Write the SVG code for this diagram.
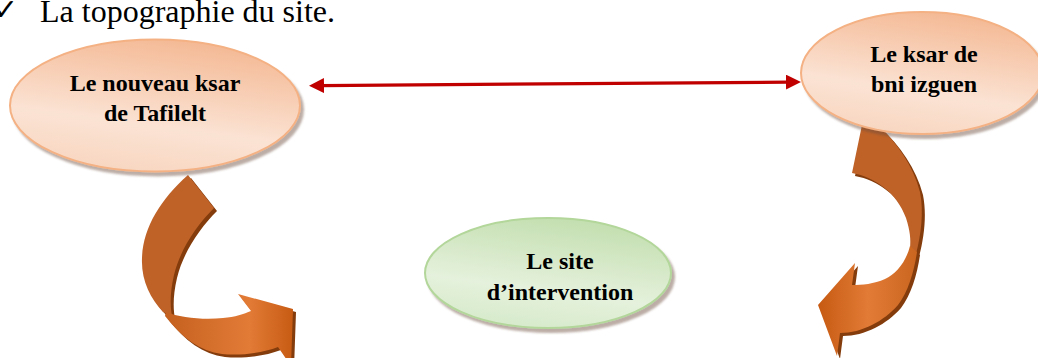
<svg xmlns="http://www.w3.org/2000/svg" xmlns:xlink="http://www.w3.org/1999/xlink" width="1038" height="358" viewBox="0 0 1038 358">
  <style>
    .title { font-family: "Liberation Serif", "Times New Roman", serif; font-size: 32px; fill: #000; }
    .check { font-family: "DejaVu Sans", sans-serif; font-size: 30px; fill: #000; }
    .label { font-family: "Liberation Serif", "Times New Roman", serif; font-size: 24px; font-weight: bold; fill: #000; text-anchor: middle; }
    .peach { fill: url(#peachFill); stroke: #F4B183; stroke-width: 2; filter: url(#shade); }
    .green { fill: url(#greenFill); stroke: #B3D69B; stroke-width: 2; filter: url(#shade); }
    .extrude { fill: #843C0C; }
    .band-back { fill: #BE6228; }
    .link { fill: none; stroke: #C00000; stroke-width: 3.3; }
  </style>
  <defs>
    <linearGradient id="peachFill" x1="0.65" y1="0" x2="0.35" y2="1">
      <stop offset="0" stop-color="#F4B893"/>
      <stop offset="0.65" stop-color="#FBE3D4"/>
      <stop offset="1" stop-color="#F8D6C0"/>
    </linearGradient>
    <linearGradient id="greenFill" x1="0.65" y1="0" x2="0.35" y2="1">
      <stop offset="0" stop-color="#C2DEAE"/>
      <stop offset="0.65" stop-color="#E5F1DC"/>
      <stop offset="1" stop-color="#D6EACA"/>
    </linearGradient>
    <linearGradient id="leftFront" gradientUnits="userSpaceOnUse" x1="165" y1="0" x2="295" y2="0">
      <stop offset="0" stop-color="#C4601F"/>
      <stop offset="0.65" stop-color="#E27B36"/>
      <stop offset="1" stop-color="#C65A12"/>
    </linearGradient>
    <linearGradient id="rightFront" gradientUnits="userSpaceOnUse" x1="818" y1="0" x2="918" y2="0">
      <stop offset="0" stop-color="#C65A12"/>
      <stop offset="0.5" stop-color="#E27B36"/>
      <stop offset="1" stop-color="#C9651F"/>
    </linearGradient>
    <filter id="shade" x="-10%" y="-10%" width="125%" height="130%">
      <feDropShadow dx="3" dy="4" stdDeviation="1.2" flood-color="#6B4A3A" flood-opacity="0.45"/>
    </filter>
    <marker id="head" markerUnits="userSpaceOnUse" markerWidth="15" markerHeight="15" refX="3" refY="7.5" orient="auto-start-reverse">
      <path d="M0,0 L15,7.5 L0,15 Z" fill="#C00000"/>
    </marker>
    <!-- curved arrow outlines: back band (before the twist) and front band with head -->
    <path id="la-back" d="M188,175 L214,208 C196,226 180,250 174,275 C170,292 170,305 172,316 L163,312 C150,298 141,280 142,258 C143,228 160,200 188,175 Z"/>
    <path id="la-front" d="M166,312 C180,318 205,320 223,318 C235,317 244,314 251,311 L238,294 L293,309 L291,366 L278,347 C262,353 240,356 222,354 C200,351 182,338 165,316 Z"/>
    <path id="ra-back" d="M862,125 L852,173 C875,177 897,193 906,218 C910,230 911,240 910,248 L916,254 C921,235 924,212 920,192 C913,165 897,143 878,125 Z"/>
    <path id="ra-front" d="M910,246 C906,262 896,274 885,279 C874,284 862,285 852,285 L855,263 L818,305 L837,356 L840,333 C862,333 884,321 898,305 C908,292 914,272 917,252 Z"/>
  </defs>

  <rect width="1038" height="358" fill="#FFFFFF"/>

  <!-- heading -->
  <text class="check" x="-7" y="20">✓</text>
  <text class="title" x="40" y="22">La topographie du site.</text>

  <!-- curved flow arrows -->
  <g id="connectors">
    <g id="arrow-left">
      <use xlink:href="#la-back" class="extrude" transform="translate(3,3)"/>
      <use xlink:href="#la-front" class="extrude" transform="translate(3,3)"/>
      <use xlink:href="#la-back" class="band-back"/>
      <use xlink:href="#la-front" fill="url(#leftFront)"/>
    </g>
    <g id="arrow-right">
      <use xlink:href="#ra-back" class="extrude" transform="translate(3,3)"/>
      <use xlink:href="#ra-front" class="extrude" transform="translate(3,3)"/>
      <use xlink:href="#ra-back" class="band-back"/>
      <use xlink:href="#ra-front" fill="url(#rightFront)"/>
    </g>
    <path id="link-ksars" class="link" d="M321,85.6 L789,82.1" marker-start="url(#head)" marker-end="url(#head)"/>
  </g>

  <g id="node-tafilelt">
    <ellipse class="peach" cx="155" cy="105.5" rx="145" ry="66"/>
    <text class="label" x="155" y="91">Le nouveau ksar</text>
    <text class="label" x="155" y="121">de Tafilelt</text>
  </g>

  <g id="node-bni-izguen">
    <ellipse class="peach" cx="922" cy="73" rx="121" ry="61"/>
    <text class="label" x="924" y="62">Le ksar de</text>
    <text class="label" x="924" y="92">bni izguen</text>
  </g>

  <g id="node-site">
    <ellipse class="green" cx="548" cy="273" rx="123" ry="55"/>
    <text class="label" x="560" y="269">Le site</text>
    <text class="label" x="560" y="300">d’intervention</text>
  </g>
</svg>
